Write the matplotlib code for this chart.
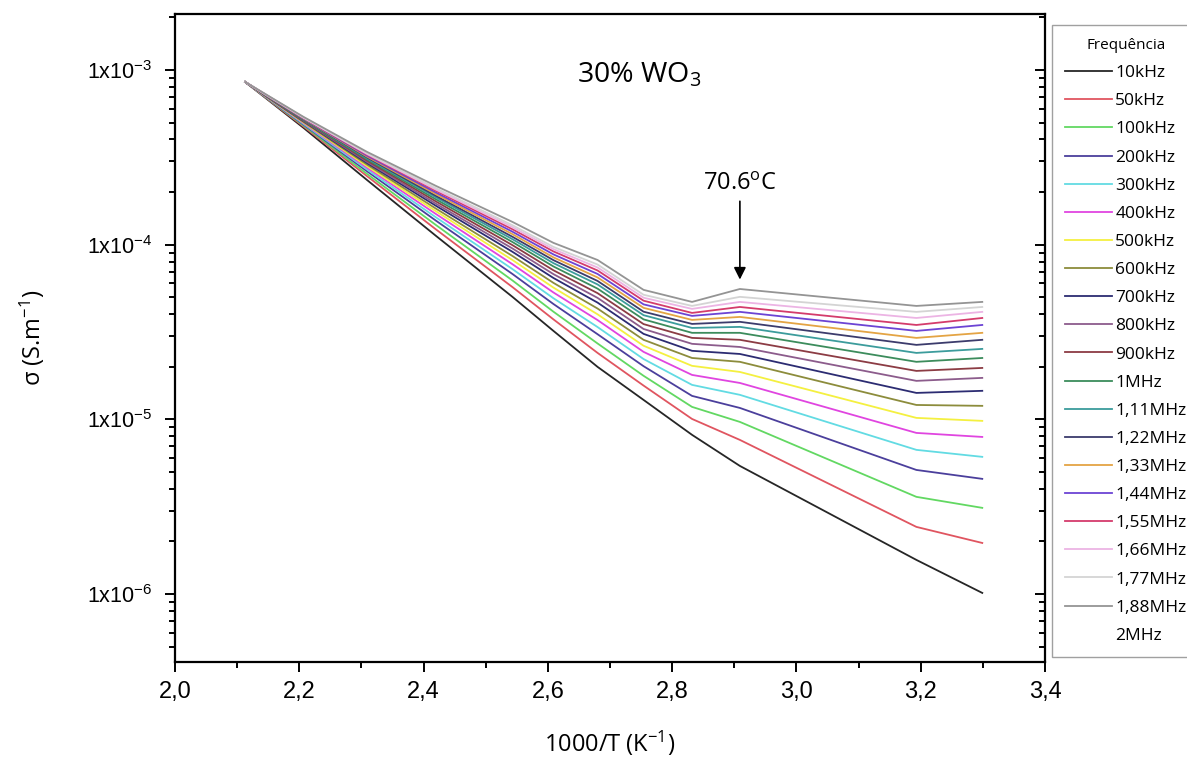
import numpy as np
import matplotlib
matplotlib.use('Agg')
import matplotlib.pyplot as plt
from matplotlib.lines import Line2D
from matplotlib.ticker import FixedLocator, MultipleLocator, FuncFormatter, LogLocator, NullFormatter

plt.rcParams['font.family'] = ['Open Sans', 'DejaVu Sans']
plt.rcParams['mathtext.default'] = 'regular'

# 1000/T (K^-1) where sigma was measured
inv_T = [2.113, 2.207, 2.309, 2.420, 2.543, 2.609, 2.680, 2.754, 2.832, 2.909, 3.193, 3.299]

# log10 of conductivity (S/m), one list per frequency
lg_10k = [-3.069, -3.332, -3.630, -3.950, -4.299, -4.494, -4.700, -4.889, -5.089, -5.267, -5.805, -5.994]
lg_50k = [-3.069, -3.324, -3.608, -3.913, -4.243, -4.428, -4.620, -4.807, -4.998, -5.118, -5.616, -5.708]
lg_100k = [-3.069, -3.318, -3.595, -3.888, -4.205, -4.384, -4.566, -4.751, -4.929, -5.015, -5.444, -5.507]
lg_200k = [-3.069, -3.313, -3.580, -3.863, -4.168, -4.340, -4.513, -4.696, -4.866, -4.935, -5.290, -5.341]
lg_300k = [-3.069, -3.309, -3.570, -3.844, -4.140, -4.307, -4.472, -4.655, -4.803, -4.860, -5.175, -5.215]
lg_400k = [-3.069, -3.305, -3.560, -3.825, -4.112, -4.274, -4.432, -4.614, -4.746, -4.792, -5.078, -5.101]
lg_500k = [-3.069, -3.301, -3.551, -3.809, -4.088, -4.246, -4.399, -4.579, -4.694, -4.729, -4.992, -5.009]
lg_600k = [-3.069, -3.298, -3.542, -3.794, -4.065, -4.219, -4.366, -4.545, -4.649, -4.671, -4.918, -4.923]
lg_700k = [-3.069, -3.294, -3.533, -3.778, -4.041, -4.191, -4.332, -4.511, -4.608, -4.626, -4.849, -4.837]
lg_800k = [-3.069, -3.291, -3.526, -3.766, -4.022, -4.169, -4.305, -4.483, -4.568, -4.586, -4.780, -4.763]
lg_900k = [-3.069, -3.288, -3.519, -3.753, -4.003, -4.147, -4.278, -4.455, -4.534, -4.545, -4.723, -4.706]
lg_1M = [-3.069, -3.286, -3.512, -3.741, -3.985, -4.125, -4.252, -4.428, -4.505, -4.505, -4.671, -4.649]
lg_1_11M = [-3.069, -3.283, -3.506, -3.730, -3.969, -4.106, -4.228, -4.404, -4.477, -4.471, -4.620, -4.597]
lg_1_22M = [-3.069, -3.282, -3.501, -3.721, -3.955, -4.089, -4.208, -4.384, -4.454, -4.442, -4.574, -4.545]
lg_1_33M = [-3.069, -3.279, -3.496, -3.711, -3.940, -4.073, -4.188, -4.362, -4.431, -4.414, -4.534, -4.505]
lg_1_44M = [-3.069, -3.277, -3.491, -3.702, -3.926, -4.056, -4.168, -4.342, -4.408, -4.385, -4.494, -4.460]
lg_1_55M = [-3.069, -3.275, -3.485, -3.692, -3.912, -4.039, -4.148, -4.321, -4.391, -4.357, -4.460, -4.420]
lg_1_66M = [-3.069, -3.274, -3.481, -3.685, -3.900, -4.026, -4.131, -4.304, -4.368, -4.328, -4.420, -4.385]
lg_1_77M = [-3.069, -3.272, -3.476, -3.677, -3.889, -4.013, -4.114, -4.287, -4.351, -4.299, -4.385, -4.357]
lg_1_88M = [-3.069, -3.269, -3.469, -3.664, -3.870, -3.990, -4.088, -4.259, -4.328, -4.254, -4.351, -4.328]

labels = ['10kHz', '50kHz', '100kHz', '200kHz', '300kHz', '400kHz', '500kHz', '600kHz',
          '700kHz', '800kHz', '900kHz', '1MHz', '1,11MHz', '1,22MHz', '1,33MHz', '1,44MHz',
          '1,55MHz', '1,66MHz', '1,77MHz', '1,88MHz']
series = [lg_10k, lg_50k, lg_100k, lg_200k, lg_300k, lg_400k, lg_500k, lg_600k, lg_700k,
          lg_800k, lg_900k, lg_1M, lg_1_11M, lg_1_22M, lg_1_33M, lg_1_44M, lg_1_55M,
          lg_1_66M, lg_1_77M, lg_1_88M]
colors = ['#262626', '#e05560', '#62d862', '#4b3f9c', '#62dbe3', '#e045e0', '#f4f040', '#8c8c3c',
          '#2c2c72', '#8c5c8c', '#8c3c44', '#3c8c5c', '#3c9c9c', '#3c3c6c', '#e4a444', '#6c44d4',
          '#d43c6c', '#ecb4e4', '#d4d4d4', '#949494']

fig = plt.figure(figsize=(11.87, 7.66), dpi=100)
ax = fig.add_axes([0.1474, 0.1358, 0.733, 0.8459])

for lg, c, lab in zip(series, colors, labels):
    ax.plot(inv_T, 10 ** np.array(lg), color=c, lw=1.3, label=lab)

ax.set_yscale('log')
ax.set_xlim(2.0, 3.4)
ax.set_ylim(4.08e-7, 2.09e-3)

ax.xaxis.set_major_locator(MultipleLocator(0.2))
ax.xaxis.set_minor_locator(MultipleLocator(0.1))
ax.xaxis.set_major_formatter(FuncFormatter(lambda v, p: f'{v:.1f}'.replace('.', ',')))
ax.yaxis.set_major_locator(FixedLocator([1e-6, 1e-5, 1e-4, 1e-3]))
ax.yaxis.set_minor_locator(LogLocator(base=10, subs=np.arange(2, 10), numticks=20))
ax.yaxis.set_minor_formatter(NullFormatter())
ax.yaxis.set_major_formatter(FuncFormatter(lambda v, p: r'1x10$^{%d}$' % round(np.log10(v))))

for s in ax.spines.values():
    s.set_linewidth(1.6)
ax.tick_params(axis='both', which='both', direction='out', width=1.4)
ax.tick_params(axis='both', which='major', length=7)
ax.tick_params(axis='both', which='minor', length=4)
ax.tick_params(axis='y', which='both', right=True, labelright=False)
ax.tick_params(axis='y', which='major', labelsize=15.5, pad=9)
ax.tick_params(axis='x', which='major', labelsize=17, pad=7)
for t in ax.get_yticklabels() + ax.get_xticklabels():
    t.set_fontfamily(['Liberation Sans', 'DejaVu Sans'])
for t in ax.yaxis.get_ticklines(minor=False)[1::2] + ax.yaxis.get_ticklines(minor=True)[1::2]:
    t.set_marker(0)  # right-side ticks point into the plot

ax.set_xlabel('1000/T (K$^{-1}$)', fontsize=17, labelpad=18)
ax.set_ylabel(r'$\sigma$ (S.m$^{-1}$)', fontsize=17, labelpad=29)

ax.text(0.534, 0.905, '30% WO$_3$', transform=ax.transAxes, fontsize=20.5, ha='center', va='center')
ax.annotate('70.6$^{o}$C', xy=(2.909, 10 ** -4.20), xytext=(2.909, 10 ** -3.72),
            fontsize=17, ha='center', va='bottom',
            arrowprops=dict(arrowstyle='-|>', color='black', lw=1.2, mutation_scale=18,
                            shrinkA=2, shrinkB=0))

handles, labs = ax.get_legend_handles_labels()
handles.append(Line2D([], [], color='white', lw=1.3))
labs.append('2MHz')
leg = ax.legend(handles, labs, title='Frequência', loc='upper left', bbox_to_anchor=(1.008, 0.983),
                fontsize=12.5, title_fontsize=11, frameon=True, fancybox=False, edgecolor='#888888',
                handlelength=2.7, handletextpad=0.2, labelspacing=0.69, borderpad=0.75,
                borderaxespad=0)
leg.get_frame().set_linewidth(1.0)

fig.savefig('out.png', dpi=100)
